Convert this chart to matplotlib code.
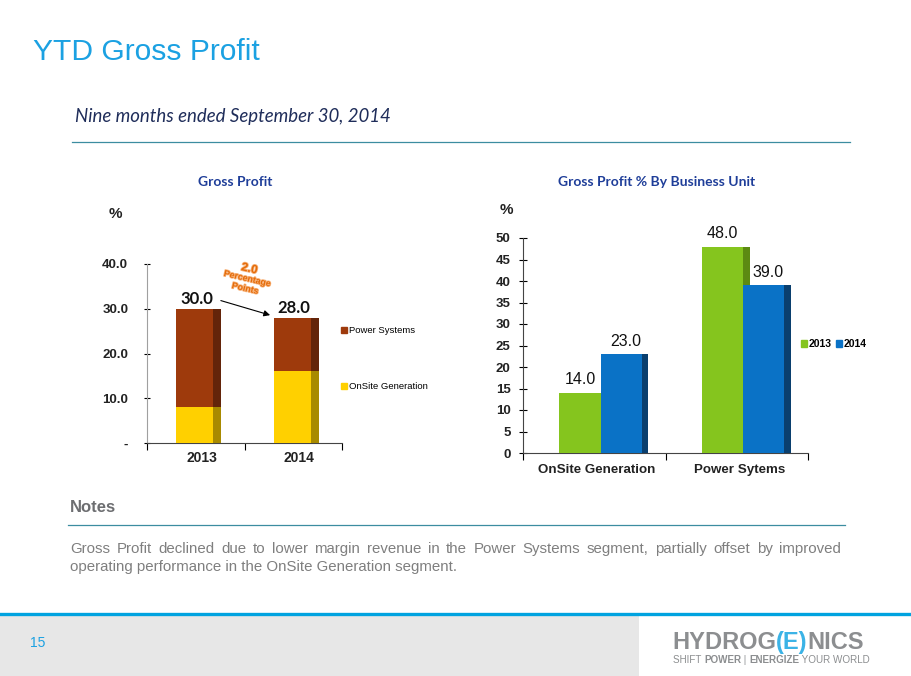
import matplotlib
matplotlib.use("Agg")
import matplotlib.pyplot as plt
import matplotlib.patheffects as pe
from matplotlib.patches import Rectangle, Patch
from matplotlib.lines import Line2D

W, H = 911, 676

# left chart: gross profit % stacked by segment
years = ["2013", "2014"]
onsite_gp = [8.0, 16.0]
power_gp = [22.0, 12.0]
totals = [30.0, 28.0]
change_value = "2.0"
change_unit = "Percentage\nPoints"

# right chart: gross profit % by business unit
units = ["OnSite Generation", "Power Sytems"]
gp_2013 = [14.0, 48.0]
gp_2014 = [23.0, 39.0]

notes_lines = [
    "Gross Profit declined due to lower margin revenue in the Power Systems segment, partially offset by improved",
    "operating performance in the OnSite Generation segment.",
]

SANS = ["Liberation Sans", "DejaVu Sans"]
CAL = ["Lato", "DejaVu Sans"]

plt.rcParams["font.family"] = SANS

fig = plt.figure(figsize=(W / 100, H / 100), dpi=100)
fig.patch.set_facecolor("white")


def fx(x):
    return x / W


def fy(y):
    return 1 - y / H


def ax_rect(x0, y0, x1, y1):
    # pixel box (top-left origin) -> figure rect
    return [fx(x0), fy(y1), (x1 - x0) / W, (y1 - y0) / H]


renderer = fig.canvas.get_renderer()


def text_width(t):
    return t.get_window_extent(renderer=renderer).width


def put_runs(x, y, runs, **kw):
    # draw text pieces one after another on the same baseline
    for s, props in runs:
        t = fig.text(fx(x), fy(y), s, va="baseline", ha="left", **kw, **props)
        x += text_width(t)


def justify(x0, x1, y, line, **kw):
    words = line.split(" ")
    items = [fig.text(0, 0, w, va="baseline", **kw) for w in words]
    widths = [text_width(t) for t in items]
    gap = (x1 - x0 - sum(widths)) / (len(words) - 1)
    x = x0
    for t, w in zip(items, widths):
        t.set_position((fx(x), fy(y)))
        x += w + gap


def style_axis(ax, spine_col):
    for s in ["top", "right"]:
        ax.spines[s].set_visible(False)
    ax.spines["left"].set_color(spine_col)
    ax.spines["bottom"].set_color("#444444")
    for s in ["left", "bottom"]:
        ax.spines[s].set_linewidth(0.8)
    for lab in ax.get_yticklabels() + ax.get_xticklabels(minor=True):
        lab.set_fontweight("bold")
        lab.set_color("#222222")


# ---- header ----
fig.text(fx(33), fy(60), "YTD Gross Profit", color="#1BA1E2", fontsize=21.6,
         va="baseline", family=SANS)
fig.text(fx(75), fy(122), "Nine months ended September 30, 2014", color="#1F2D5A",
         fontsize=13.4, style="italic", va="baseline", family=CAL)
fig.add_artist(Line2D([fx(72), fx(850)], [fy(142), fy(142)], color="#3C8DA0", lw=0.9))

# ---- left chart ----
ax1 = fig.add_axes(ax_rect(147, 264, 342, 443))
xs = range(len(years))
front_w, side_w, off = 0.38, 0.08, -0.2
lefts = [x + off for x in xs]
sides = [x + off + front_w for x in xs]
ax1.bar(lefts, onsite_gp, width=front_w, align="edge", color="#FFD000", zorder=3)
ax1.bar(sides, onsite_gp, width=side_w, align="edge", color="#A88A00", zorder=3)
ax1.bar(lefts, power_gp, bottom=onsite_gp, width=front_w, align="edge", color="#9E3A0C", zorder=3)
ax1.bar(sides, power_gp, bottom=onsite_gp, width=side_w, align="edge", color="#63240A", zorder=3)
for x, tot in zip(xs, totals):
    ax1.annotate(f"{tot:.1f}", (x + off + front_w / 2 + 0.02, tot), xytext=(0, 1),
                 textcoords="offset points", ha="center", va="bottom",
                 fontsize=12, fontweight="bold", family=CAL, color="#111111")
ax1.annotate("", xy=(1 + off - 0.01, totals[1] + 0.4), xytext=(0 + off + front_w + side_w - 0.03, totals[0] + 2.0),
             arrowprops=dict(arrowstyle="-|>", color="black", lw=0.8, mutation_scale=9))
glow = [pe.withStroke(linewidth=1.2, foreground="#F7B27A")]
ax1.text(0.55, 38.9, change_value, ha="center", va="center", rotation=-13, fontsize=8.5,
         fontweight="bold", color="#E46C0A", family=SANS, path_effects=glow)
ax1.text(0.52, 35.6, change_unit, ha="center", va="center", rotation=-13, fontsize=6.4,
         fontweight="bold", color="#E46C0A", linespacing=1.15, family=SANS, path_effects=glow)
ax1.set_xlim(-0.5, 1.5)
ax1.set_ylim(0, 40)
ax1.set_yticks([0, 10, 20, 30, 40])
ax1.set_yticklabels(["-", "10.0", "20.0", "30.0", "40.0"])
ax1.set_xticks([-0.5, 0.5, 1.5])
ax1.set_xticklabels([])
ax1.set_xticks([x + 0.06 for x in xs], minor=True)
ax1.set_xticklabels(years, minor=True)
ax1.tick_params(axis="x", which="minor", length=0, pad=6, labelsize=10)
ax1.tick_params(axis="x", which="major", length=5, direction="out", width=0.8)
ax1.tick_params(axis="y", length=5, width=0.8, direction="inout", pad=11, labelsize=9.5)
style_axis(ax1, "#A0A0A0")
ax1.legend(handles=[Patch(color="#9E3A0C"), Patch(color="#FFD000")],
           labels=["Power Systems", "OnSite Generation"],
           loc="center left", bbox_to_anchor=(0.975, 0.47), frameon=False,
           fontsize=6.8, handlelength=0.6, handleheight=0.6, handletextpad=0.3,
           labelspacing=5.0, borderaxespad=0)
fig.text(fx(235), fy(182), "Gross Profit", ha="center", va="center", fontsize=10,
         fontweight="bold", color="#1F3E99", family=CAL)
fig.text(fx(115), fy(214), "%", ha="center", va="center", fontsize=11,
         fontweight="bold", color="#222222")

# ---- right chart ----
ax2 = fig.add_axes(ax_rect(523, 238, 808, 453))
xs2 = range(len(units))
bw, sw = 0.29, 0.045
g_left = [x - 0.245 for x in xs2]
b_left = [x + 0.045 for x in xs2]
ax2.bar([l + bw for l in g_left], gp_2013, width=sw, align="edge", color="#5C8A12", zorder=2)
ax2.bar(g_left, gp_2013, width=bw, align="edge", color="#85C51E", zorder=3)
ax2.bar(b_left, gp_2014, width=bw, align="edge", color="#0A72C6", zorder=4)
ax2.bar([l + bw for l in b_left], gp_2014, width=sw, align="edge", color="#0A3F6E", zorder=4)
for l, v in zip(g_left, gp_2013):
    ax2.annotate(f"{v:.1f}", (l + bw / 2, v), xytext=(0, 4), textcoords="offset points",
                 ha="center", va="bottom", fontsize=11.5, color="#111111")
for l, v in zip(b_left, gp_2014):
    ax2.annotate(f"{v:.1f}", (l + bw / 2 + 0.03, v), xytext=(0, 4), textcoords="offset points",
                 ha="center", va="bottom", fontsize=11.5, color="#111111")
ax2.set_xlim(-0.5, 1.5)
ax2.set_ylim(0, 50)
ax2.set_yticks(range(0, 51, 5))
ax2.set_xticks([-0.5, 0.5, 1.5])
ax2.set_xticklabels([])
ax2.set_xticks([x + 0.02 for x in xs2], minor=True)
ax2.set_xticklabels(units, minor=True)
ax2.tick_params(axis="x", which="minor", length=0, pad=8, labelsize=9.6)
ax2.tick_params(axis="x", which="major", length=5, direction="out", width=0.8)
ax2.tick_params(axis="y", length=6, width=0.8, direction="inout", pad=6, labelsize=9.5)
style_axis(ax2, "#444444")
ax2.legend(handles=[Patch(color="#85C51E"), Patch(color="#0A72C6")], labels=["2013", "2014"],
           loc="center left", bbox_to_anchor=(0.96, 0.505), frameon=False, ncol=2,
           prop={"size": 7.5, "weight": "bold"}, handlelength=0.6, handleheight=0.6,
           handletextpad=0.15, columnspacing=0.4, borderaxespad=0)
fig.text(fx(657), fy(182), "Gross Profit % By Business Unit", ha="center", va="center",
         fontsize=10, fontweight="bold", color="#1F3E99", family=CAL)
fig.text(fx(506), fy(210), "%", ha="center", va="center", fontsize=11,
         fontweight="bold", color="#222222")

# ---- notes ----
fig.text(fx(70), fy(507), "Notes", ha="left", va="center", fontsize=12, fontweight="bold",
         color="#6D6E71")
fig.add_artist(Line2D([fx(68), fx(845)], [fy(525), fy(525)], color="#3C8DA0", lw=0.9))
justify(70, 841, 553, notes_lines[0], fontsize=10.8, color="#7F7F7F")
fig.text(fx(70), fy(571), notes_lines[1], va="baseline", fontsize=10.8, color="#7F7F7F")

# ---- footer ----
fig.add_artist(Rectangle((0, 0), fx(639), fy(616), transform=fig.transFigure,
                         color="#E7E7E7", lw=0, zorder=0))
fig.add_artist(Line2D([0, 1], [fy(614), fy(614)], color="#00A3E0", lw=2.4))
fig.text(fx(30), fy(643), "15", va="center", fontsize=10, color="#1BA1E2")
logo_gray = "#8C8E90"
put_runs(672, 649, [("HYDROG", {"color": logo_gray}), ("(E)", {"color": "#3BB3E6"}),
                    ("NICS", {"color": logo_gray})], fontsize=17, fontweight="bold")
put_runs(673, 663, [("SHIFT ", {}), ("POWER", {"fontweight": "bold"}), (" | ", {}),
                    ("ENERGIZE", {"fontweight": "bold"}), (" YOUR WORLD", {})],
         fontsize=7.1, color=logo_gray)

fig.savefig("out.png", dpi=100)
